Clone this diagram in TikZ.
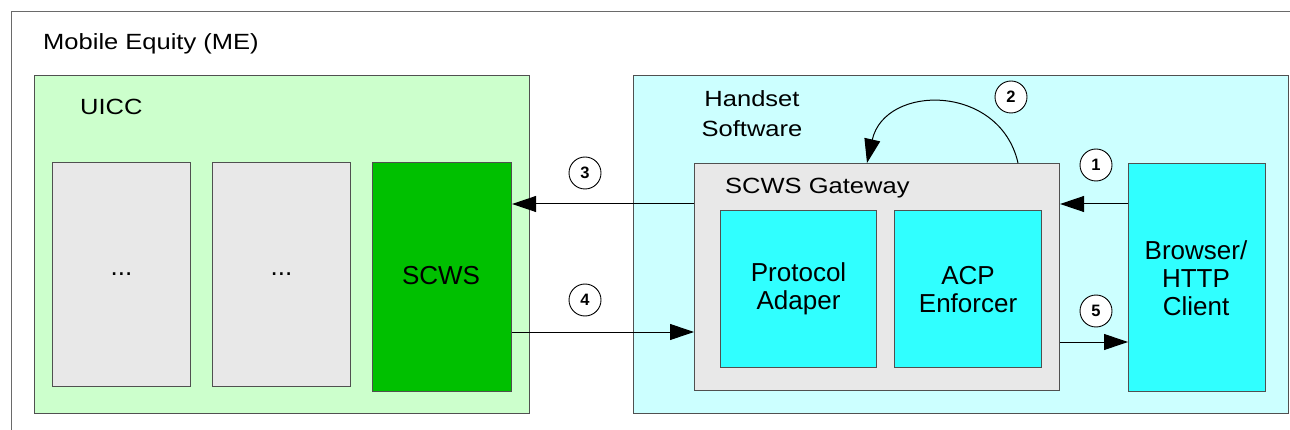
\documentclass[tikz,border=0pt]{standalone}
\usepackage{fontspec}
\usepackage{graphicx}
\setmainfont{Liberation Sans}
\usetikzlibrary{arrows.meta}
\definecolor{mebord}{HTML}{6A6A6A}
\definecolor{bord}{HTML}{505050}
\definecolor{uiccfill}{HTML}{CCFFCC}
\definecolor{hsfill}{HTML}{CCFFFF}
\definecolor{appfill}{HTML}{E8E8E8}
\definecolor{scwsfill}{HTML}{00C000}
\definecolor{cyanfill}{HTML}{30FFFF}
% frame captions are set slightly wide
\newcommand{\widecaption}[1]{\scalebox{1.16}[1]{#1}}
\tikzset{
  box/.style={draw=bord, line width=1.1pt, anchor=north west, inner sep=0pt},
  boxtext/.style={font=\fontsize{26}{28}\selectfont, align=center, text=black, inner sep=0pt},
  caption/.style={font=\fontsize{22}{30}\selectfont, text=black, inner sep=0pt},
  arr/.style={draw=black, line width=1pt, -{Triangle[length=24pt,width=16pt]}},
  num/.style={draw=black, line width=0.9pt, circle, fill=white, minimum size=32pt,
              inner sep=0pt, font=\fontsize{16.5}{16.5}\selectfont\bfseries},
}
\begin{document}
\begin{tikzpicture}[x=1pt, y=-1pt]
\useasboundingbox (0,0) rectangle (1290,430);
\fill[white] (0,0) rectangle (1290,430);

% Mobile equipment frame, running past the right and bottom edges
\begin{scope}
  \clip (0,0) rectangle (1290,430);
  \node[draw=mebord, line width=1.1pt, anchor=north west, minimum width=1300pt,
        minimum height=440pt, inner sep=0pt] (me) at (11,11) {};
\end{scope}
\node[caption, anchor=base west] (melabel) at (43,50) {\widecaption{Mobile Equity (ME)}};

% UICC
\node[box, fill=uiccfill, minimum width=495pt, minimum height=338pt] (uicc) at (34,75) {};
\node[caption, anchor=base west] (uicclabel) at (80,115) {\widecaption{UICC}};
\node[box, fill=appfill, minimum width=138pt, minimum height=224pt] (app1) at (52,162) {};
\node[boxtext] (app1t) at (app1.center) {...};
\node[box, fill=appfill, minimum width=138pt, minimum height=224pt] (app2) at (212,162) {};
\node[boxtext] (app2t) at (app2.center) {...};
\node[box, fill=scwsfill, minimum width=139pt, minimum height=229pt] (scws) at (372,162) {};
\node[boxtext] (scwst) at (441,276) {SCWS};

% Handset software
\node[box, fill=hsfill, minimum width=655pt, minimum height=338pt] (hs) at (633,75) {};
\node[caption] (hslabel) at (752,116)
  {\widecaption{\begin{tabular}{@{}c@{}}Handset\\Software\end{tabular}}};
\node[box, fill=appfill, minimum width=365pt, minimum height=227pt] (gw) at (694,163) {};
\node[caption, anchor=base west] (gwlabel) at (725,194) {\widecaption{SCWS Gateway}};
\node[box, fill=cyanfill, minimum width=156pt, minimum height=157pt] (pa) at (720,210) {};
\node[boxtext] (pat) at (pa.center) {Protocol\\Adaper};
\node[box, fill=cyanfill, minimum width=147pt, minimum height=157pt] (acp) at (894,210) {};
\node[boxtext] (acpt) at (acp.center) {ACP\\Enforcer};
\node[box, fill=cyanfill, minimum width=137pt, minimum height=228pt] (br) at (1128,163) {};
\node[boxtext] (brt) at (1196,278) {Browser/\\HTTP\\Client};

% Message flow
\draw[arr] (br.west |- 0,204) -- (gw.east |- 0,204);
\draw[arr] (gw.north -| 1018,0) .. controls (1000,83.5) and (885,83.5) .. (gw.north -| 867,0);
\draw[arr] (gw.west |- 0,204) -- (scws.east |- 0,204);
\draw[arr] (scws.east |- 0,332) -- (gw.west |- 0,332);
\draw[arr] (gw.east |- 0,342) -- (br.west |- 0,342);

% Step numbers
\node[num] (n1) at (1096,165) {1};
\node[num] (n2) at (1011,97) {2};
\node[num] (n3) at (585,173) {3};
\node[num] (n4) at (585,300) {4};
\node[num] (n5) at (1096,311) {5};
\end{tikzpicture}
\end{document}
